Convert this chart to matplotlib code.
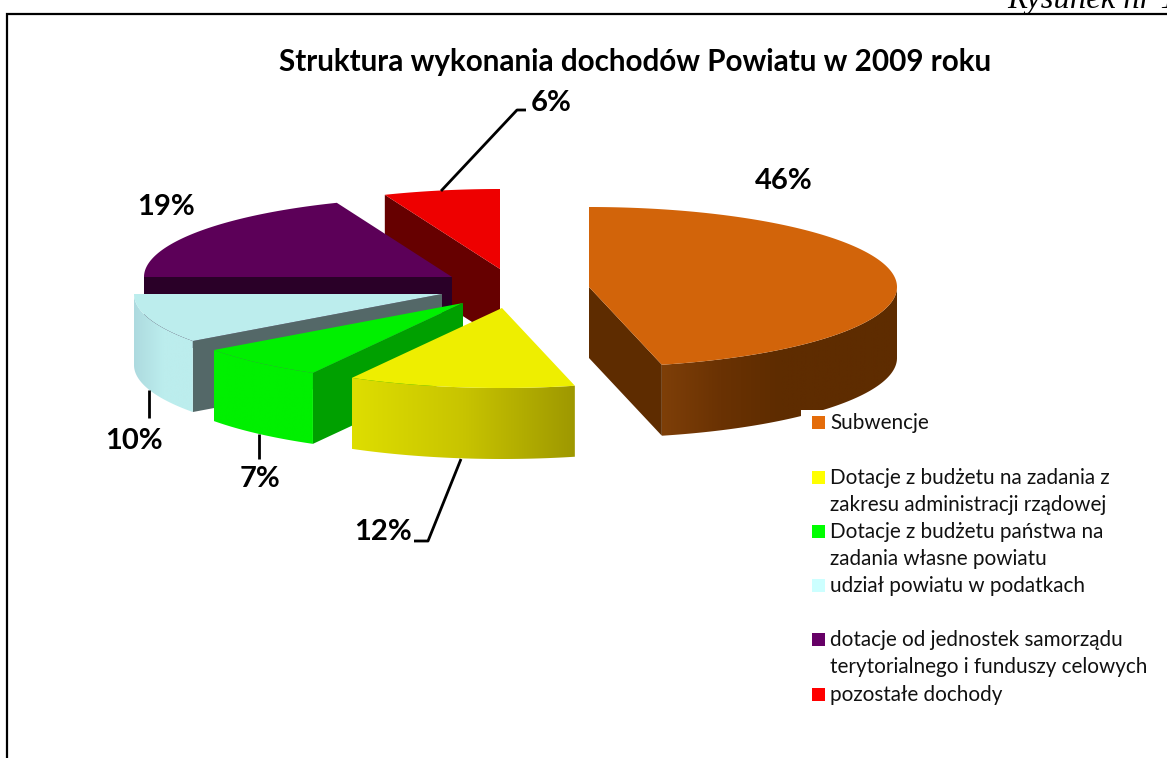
import numpy as np
import matplotlib
matplotlib.use("Agg")
import matplotlib.pyplot as plt
from matplotlib.colors import LinearSegmentedColormap
from matplotlib.patches import Polygon, Rectangle

# dane
tytul = "Struktura wykonania dochodów Powiatu w 2009 roku"
nazwy = [
    "Subwencje",
    "Dotacje z budżetu na zadania z\nzakresu administracji rządowej",
    "Dotacje z budżetu państwa na\nzadania własne powiatu",
    "udział powiatu w podatkach",
    "dotacje od jednostek samorządu\nterytorialnego i funduszy celowych",
    "pozostałe dochody",
]
udzial = [46.2, 11.9, 6.9, 10.0, 18.9, 6.1]

# kolory
kolor_legendy = ["#E46C0A", "#FFFF00", "#00FF00", "#CCFFFF", "#660066", "#FF0000"]
kolor_gora = ["#D2640A", "#EEEE00", "#00F000", "#BCEDED", "#5C0058", "#EE0000"]
kolor_ciecia = ["#5E2C00", "#A09A00", "#00A000", "#546868", "#2A0028", "#660000"]
gradient_boku = [
    ["#7E3F08", "#6A3203", "#5E2C00", "#5E2C00", "#5E2C00"],
    ["#DEDE00", "#C8C400", "#9E9800"],
    ["#00F000", "#00F000"],
    ["#ADDADF", "#BCEDED", "#BCEDED"],
    None,
    None,
]

# uklad: srodki wysunietych kawalkow, promienie elipsy, grubosc (w pikselach obrazka)
srodki = [(589, 287), (502, 308), (463, 303), (442, 294), (452, 277), (500, 269)]
rx, ry, grubosc = 308, 80, 71


def punkt(srodek, kat):
    # kat liczony od godziny 12 zgodnie z zegarem
    k = np.radians(kat)
    return srodek[0] + rx * np.sin(k), srodek[1] - ry * np.cos(k)


fig = plt.figure(figsize=(11.67, 7.58), dpi=100)
ax = fig.add_axes([0, 0, 1, 1])
ax.set_xlim(0, 1167)
ax.set_ylim(758, 0)
ax.axis("off")

katy = np.concatenate([[0], np.cumsum(udzial) / np.sum(udzial) * 360])

# od tylu do przodu, pomaranczowy na koncu bo i tak stoi osobno
kolejnosc = [5, 4, 3, 2, 1, 0]
z = 1
for i in kolejnosc:
    a1, a2 = katy[i], katy[i + 1]
    s = srodki[i]

    # sciany ciecia - tylko te zwrocone do patrzacego
    for kat, normalna in [(a1, a1 - 90), (a2, a2 + 90)]:
        if np.cos(np.radians(normalna)) < -0.01:
            x, y = punkt(s, kat)
            ax.add_patch(Polygon([s, (x, y), (x, y + grubosc), (s[0], s[1] + grubosc)],
                                 closed=True, fc=kolor_ciecia[i], ec="none", zorder=z))
            z += 1

    # bok zewnetrzny
    od, do = max(a1, 90), min(a2, 270)
    if od < do and gradient_boku[i] is not None:
        t = np.linspace(od, do, 120)
        x, y = punkt(s, t)
        xy = np.column_stack([np.r_[x, x[::-1]], np.r_[y, y[::-1] + grubosc]])
        bok = Polygon(xy, closed=True, fc="none", ec="none", transform=ax.transData)
        ax.add_patch(bok)
        cmap = LinearSegmentedColormap.from_list("bok", gradient_boku[i])
        x0, x1 = xy[:, 0].min(), xy[:, 0].max()
        obraz = ax.imshow(np.linspace(0, 1, 256).reshape(1, -1), cmap=cmap, aspect="auto",
                          extent=[x0, x1, xy[:, 1].max(), xy[:, 1].min()], zorder=z)
        obraz.set_clip_path(bok)
        z += 1

    # gora kawalka
    t = np.linspace(a1, a2, 200)
    x, y = punkt(s, t)
    ax.add_patch(Polygon(np.vstack([[s], np.column_stack([x, y])]), closed=True,
                         fc=kolor_gora[i], ec="none", zorder=z))
    z += 1

ax.set_xlim(0, 1167)
ax.set_ylim(758, 0)

# biale tlo legendy zaslania kawalek boku
ax.add_patch(Rectangle((801, 410), 366, 310, fc="white", ec="none", zorder=50))

# legenda
wiersze = [423, 478, 532, 586, 640, 695]
for nazwa, kol, yw in zip(nazwy, kolor_legendy, wiersze):
    ax.add_patch(Rectangle((812, yw - 7), 13, 13, fc=kol, ec="none", zorder=51))
    for j, linia in enumerate(nazwa.split("\n")):
        ax.text(830, yw + j * 27.3, linia, fontsize=14.85, family="Lato", va="center",
                ha="left", color="#111111", zorder=52)

# etykiety procentowe
ety_x = [784, 383, 260, 134, 166, 551]
ety_y = [181, 532, 479, 441, 207, 103]
for v, ex, ey in zip(udzial, ety_x, ety_y):
    ax.text(ex, ey, "%.0f%%" % v, fontsize=21, fontweight="bold", family="Lato",
            ha="center", va="center", color="black", zorder=60)

# linie odniesienia
ax.plot([441, 517, 526], [191, 110, 110], color="black", lw=2, zorder=55, solid_capstyle="butt")
ax.plot([461, 428, 414], [459, 541, 541], color="black", lw=2, zorder=55, solid_capstyle="butt")
ax.plot([149, 149], [390, 418], color="black", lw=2, zorder=55, solid_capstyle="butt")
ax.plot([259, 259], [434, 459], color="black", lw=2, zorder=55, solid_capstyle="butt")

ax.text(635, 62, tytul, fontsize=21.3, fontweight="bold", family="Lato",
        ha="center", va="center", color="black", zorder=60)

# ramka i uciety napis u gory
ax.plot([7, 7, 1167], [758, 14, 14], color="black", lw=1.6, zorder=70, solid_joinstyle="miter")
ax.text(1007, 8, "Rysunek nr 1", fontsize=23.5, style="italic", family="Liberation Serif",
        ha="left", va="baseline", color="black", zorder=70)

fig.savefig("out.png", dpi=100)
